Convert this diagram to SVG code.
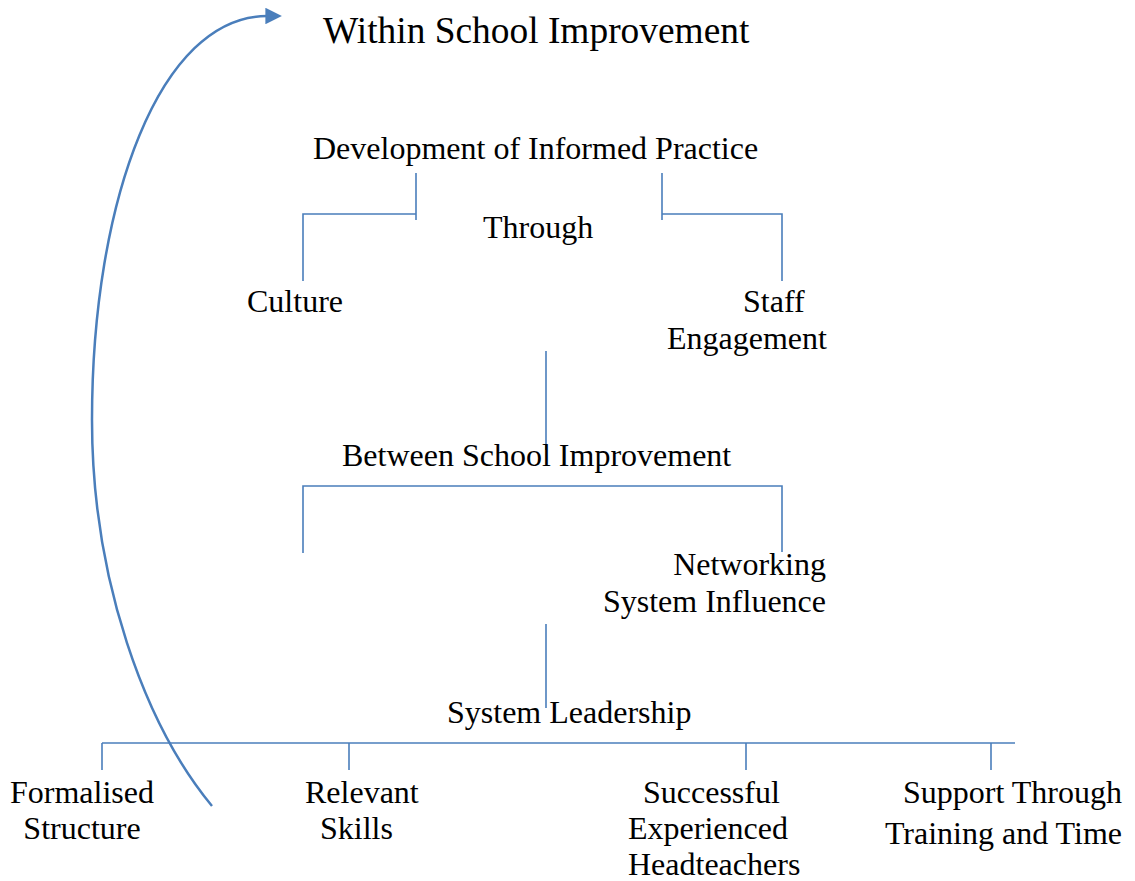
<svg xmlns="http://www.w3.org/2000/svg" width="1135" height="881" viewBox="0 0 1135 881">
<style>
text{font-family:"Liberation Serif","Times New Roman",serif;font-size:32px;fill:#000}
.title{font-size:37.4px}
.ln{stroke:#4a7ebb;stroke-width:1.6;fill:none}
.cv{stroke:#4a7ebb;stroke-width:2.5;fill:none}
</style>
<defs>
<marker id="ah" viewBox="0 0 10 10" refX="1" refY="5" markerWidth="7" markerHeight="6.6" orient="auto" markerUnits="strokeWidth">
<path d="M0,0 L10,5 L0,10 z" fill="#4a7ebb"/>
</marker>
</defs>
<rect width="1135" height="881" fill="#fff"/>
<g id="connectors">
<polyline class="ln" points="416,173 416,220"/>
<polyline class="ln" points="416,214 303,214 303,281"/>
<polyline class="ln" points="662,173 662,220"/>
<polyline class="ln" points="662,214 782,214 782,281"/>
<line class="ln" x1="546" y1="351" x2="546" y2="450"/>
<polyline class="ln" points="303,553 303,486 782,486 782,552"/>
<line class="ln" x1="546" y1="624" x2="546" y2="708"/>
<line class="ln" x1="102" y1="743" x2="1015" y2="743"/>
<line class="ln" x1="102" y1="743" x2="102" y2="770"/>
<line class="ln" x1="349" y1="743" x2="349" y2="770"/>
<line class="ln" x1="746" y1="743" x2="746" y2="770"/>
<line class="ln" x1="991" y1="743" x2="991" y2="770"/>
<path class="cv" d="M212,806 C145,725 92,580 92,420 C92,200 160,16 267,16" marker-end="url(#ah)"/>
</g>
<g id="within"><text class="title" x="323" y="43">Within School Improvement</text></g>
<g id="development"><text x="313" y="159">Development of Informed Practice</text></g>
<g id="through"><text x="483" y="238">Through</text></g>
<g id="culture"><text x="247" y="312">Culture</text></g>
<g id="staff"><text x="743" y="312">Staff</text><text x="667" y="349">Engagement</text></g>
<g id="between"><text x="342" y="466">Between School Improvement</text></g>
<g id="networking"><text x="826" y="575" text-anchor="end">Networking</text><text x="826" y="612" text-anchor="end">System Influence</text></g>
<g id="leadership"><text x="447" y="723">System Leadership</text></g>
<g id="formalised"><text x="82" y="803" text-anchor="middle">Formalised</text><text x="82" y="839" text-anchor="middle">Structure</text></g>
<g id="relevant"><text x="305" y="803">Relevant</text><text x="320" y="839">Skills</text></g>
<g id="successful"><text x="643" y="803">Successful</text><text x="628" y="839">Experienced</text><text x="628" y="875">Headteachers</text></g>
<g id="support"><text x="1122" y="803" text-anchor="end">Support Through</text><text x="1122" y="844" text-anchor="end">Training and Time</text></g>
</svg>
